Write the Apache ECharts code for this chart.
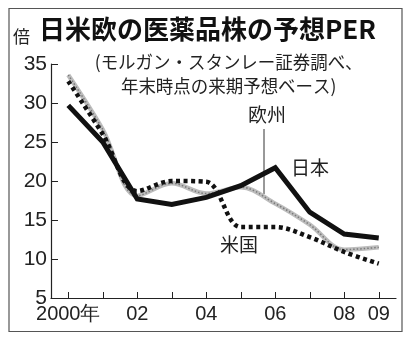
<!DOCTYPE html>
<html><head><meta charset="utf-8">
<script src="https://cdn.jsdelivr.net/npm/echarts@6/dist/echarts.min.js"></script>
<style>html,body{margin:0;padding:0;background:#fff}#c{width:412px;height:340px}</style>
</head><body><div id="c"></div>
<script>
var years = ['2000','01','02','03','04','05','06','07','08','09'];
var xLabels = {'2000':'2000年','02':'02','04':'04','06':'06','08':'08','09':'09'};
var japan  = [29.7, 25.0, 17.7, 17.0, 17.9, 19.4, 21.7, 16.0, 13.2, 12.7];
var usa    = [32.8, 26.0, 18.7, 20.0, 19.9, 14.1, 14.1, 12.8, 10.9, 9.4];
var europe = [33.6, 26.6, 18.1, 19.7, 18.4, 19.2, 17.1, 14.4, 11.2, 11.5];
var yMin = 5, yMax = 35, yStep = 5;

var numFont = '"Liberation Sans Narrow","Liberation Sans",Arial,sans-serif';
var jpFont = '"Noto Sans CJK JP","Noto Sans",sans-serif';

var chart = echarts.init(document.getElementById('c'), null, {renderer:'canvas'});
chart.setOption({
  animation:false,
  backgroundColor:'#fff',
  grid:{left:51, right:16, top:64, bottom:42},
  xAxis:{
    type:'category', data:years, boundaryGap:true,
    axisLine:{lineStyle:{color:'#222', width:1.2}},
    axisTick:{show:true, inside:true, alignWithLabel:true, interval:0, length:6, lineStyle:{color:'#222'}},
    axisLabel:{interval:0, margin:6, color:'#222', fontSize:20, fontFamily:numFont,
      formatter:function(v){return xLabels[v]||'';}}
  },
  yAxis:{
    type:'value', min:yMin, max:yMax, interval:yStep,
    axisLine:{show:true, lineStyle:{color:'#222', width:1.2}},
    axisTick:{show:true, inside:true, length:7, lineStyle:{color:'#222'}},
    splitLine:{show:false},
    axisLabel:{margin:4, color:'#222', fontSize:21, fontFamily:numFont}
  },
  series:[
    {type:'line', data:europe, smooth:0.35, symbol:'none', lineStyle:{color:'#bdbdbd', width:4.5}, z:2},
    {type:'line', data:europe, smooth:0.35, symbol:'none', lineStyle:{color:'#7a7a7a', width:1.5, type:[1.5,2]}, z:3},
    {type:'line', data:japan, symbol:'none', lineStyle:{color:'#111', width:5, join:'miter'}, z:4},
    {type:'line', data:usa, smooth:0.35, symbol:'none', lineStyle:{color:'#111', width:4.5, type:[4,3.5]}, z:5}
  ],
  graphic:[
    {type:'rect', shape:{x:9, y:8.5, width:393, height:323}, style:{fill:null, stroke:'#555', lineWidth:1.2}, silent:true},
    {type:'text', x:13, y:28, style:{text:'倍', font:'17px '+jpFont, fill:'#222'}},
    {type:'text', x:39, y:16, style:{text:'日米欧の医薬品株の予想PER', font:'bold 26px '+jpFont, fill:'#111'}},
    {type:'text', x:222, y:53, scaleX:0.97, originX:222, style:{text:'(モルガン・スタンレー証券調べ、', font:'18px '+jpFont, fill:'#222', textAlign:'center'}},
    {type:'text', x:222, y:77, scaleX:0.97, originX:222, style:{text:'年末時点の来期予想ベース)', font:'18px '+jpFont, fill:'#222', textAlign:'center'}},
    {type:'text', x:248, y:105, style:{text:'欧州', font:'19px '+jpFont, fill:'#222'}},
    {type:'line', shape:{x1:264, y1:129, x2:264, y2:194}, style:{stroke:'#333', lineWidth:1}},
    {type:'text', x:291, y:158, style:{text:'日本', font:'19px '+jpFont, fill:'#222'}},
    {type:'text', x:220, y:235, style:{text:'米国', font:'19px '+jpFont, fill:'#222'}}
  ]
});
</script></body></html>
